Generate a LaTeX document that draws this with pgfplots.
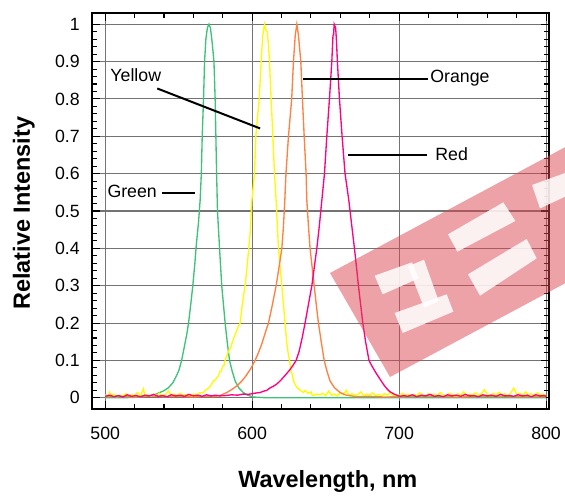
\documentclass[border=0pt]{standalone}
\usepackage{pgfplots}
\pgfplotsset{compat=1.18}
\usepackage{fontspec}
\setmainfont{Liberation Sans}

\definecolor{cgreen}{RGB}{60,195,120}
\definecolor{cyellow}{RGB}{255,250,0}
\definecolor{corange}{RGB}{255,128,64}
\definecolor{cred}{RGB}{255,0,128}
\definecolor{wmark}{RGB}{220,70,80}

\begin{document}
\begin{tikzpicture}
\begin{axis}[
    at={(0,0)}, anchor=south west,
    scale only axis, width=342.75pt, height=297pt,
    xmin=491, xmax=802, ymin=-0.03, ymax=1.03,
    xtick={500,600,700,800}, minor x tick num=4,
    ytick={0,0.1,0.2,0.3,0.4,0.5,0.6,0.7,0.8,0.9,1},
    yticklabels={0,0.1,0.2,0.3,0.4,0.5,0.6,0.7,0.8,0.9,1},
    minor y tick num=4,
    tick align=inside, tick pos=both,
    major tick length=6pt, minor tick length=3.5pt,
    tick style={black, line width=0.8pt},
    grid=major, major grid style={black!55, line width=0.8pt},
    axis line style={black, line width=1pt},
    /pgf/number format/assume math mode=true,
    ticklabel style={font=\fontsize{13.3}{16}\selectfont, inner sep=0pt},
    xticklabel style={anchor=base, yshift=-22.5pt},
    yticklabel style={anchor=east, xshift=-9pt},
    xlabel={Wavelength, nm},
    ylabel={Relative Intensity},
    label style={font=\fontsize{17.6}{20}\selectfont\bfseries, inner sep=0pt},
    xlabel style={at={(axis description cs:0.516,-0.197)}, anchor=base},
    ylabel style={at={(axis description cs:-0.1357,0.494)}, anchor=base},
]
% Green
\addplot[cgreen, line width=1pt] coordinates {
(500,0) (510,0) (520,0.001) (526,0.003) (530,0.005) (534,0.009) (537,0.014)
(540,0.019) (543,0.027) (546,0.04) (548,0.055) (550,0.072) (552,0.1)
(554,0.14) (555.5,0.17) (556.7,0.2) (558.2,0.25) (559.6,0.3) (561,0.36)
(562,0.41) (563.5,0.47) (564.6,0.53) (565.4,0.6) (566,0.7) (566.9,0.8)
(567.6,0.9) (568.5,0.96) (569.5,0.99) (570.6,1.0) (571.6,0.99) (572.8,0.95)
(574,0.9) (574.8,0.8) (575.3,0.7) (575.8,0.6) (576.4,0.5) (577.8,0.4)
(579.3,0.3) (581.6,0.2) (583,0.15) (584.6,0.1) (586.5,0.07) (588.4,0.045)
(591,0.026) (594,0.014) (597,0.007) (601,0.002) (610,0) (800,0)
};
% Yellow
\addplot[cyellow, line width=1pt] coordinates {
(500,0.008) (502,0.004) (503,0.015) (504,0.006) (506,0.01) (508,0.003) (510,0.007)
(512,0.005) (514,0.011) (516,0.004) (518,0.009) (520,0.006) (522,0.014)
(524,0.005) (526,0.024) (527,0.006) (529,0.008) (531,0.004) (533,0.01)
(535,0.007) (537,0.012) (539,0.005) (541,0.009) (543,0.018) (545,0.008)
(547,0.01) (549,0.006) (551,0.012) (553,0.007) (555,0.009) (557.8,0.006)
(560,0.01) (562,0.008) (564,0.013) (566.9,0.014) (568,0.02) (570,0.025)
(572,0.034) (573.7,0.045) (575,0.048) (576,0.055) (577,0.058) (578,0.07)
(579,0.072) (580,0.085) (581,0.088) (581.6,0.1) (583,0.115) (584.5,0.13)
(585.3,0.132) (586.2,0.145) (587.5,0.16) (589,0.175) (590.5,0.19) (591.8,0.2)
(593,0.24) (594,0.27) (595.2,0.3) (596.5,0.35) (597.7,0.4) (598.6,0.44)
(599.8,0.528) (601.6,0.6) (602.5,0.7) (604.8,0.8) (606.1,0.9) (607.2,0.97)
(608.4,1.0) (609.2,0.985) (610.2,0.98) (611,0.95) (611.8,0.9) (612.9,0.8)
(614.1,0.7) (615.2,0.6) (616.3,0.528) (617.9,0.4) (619,0.35) (620.2,0.3)
(621.3,0.25) (622.4,0.2) (623.6,0.145) (624.5,0.12) (625.4,0.1) (626.5,0.07)
(627.3,0.062) (628.1,0.045) (630,0.03) (632,0.022) (633.5,0.018) (634.9,0.014)
(636,0.02) (638,0.012) (640,0.016) (641,0.006) (644,0.01)
(646,0.008) (648,0.012) (650,0.006) (652,0.018) (654,0.007) (656,0.01)
(658,0.005) (660,0.014) (662,0.008) (664,0.02) (666,0.006) (668,0.011)
(670,0.007) (672,0.009) (674,0.016) (676,0.005) (678,0.01) (680,0.008)
(682,0.013) (684,0.006) (686,0.009) (688,0.004) (690,0.011) (692,0.007)
(694,0.015) (696,0.006) (698,0.009) (700,0.005) (702,0.012) (704,0.007)
(706,0.01) (708,0.004) (710,0.009) (712,0.006) (714,0.013) (716,0.008)
(718,0.005) (720,0.011) (722,0.007) (724,0.01) (726,0.006) (728,0.014)
(730,0.008) (732,0.005) (734,0.012) (736,0.009) (738,0.006) (740,0.011)
(742,0.007) (744,0.016) (746,0.006) (748,0.01) (750,0.008) (752,0.013)
(754,0.007) (756,0.011) (758,0.022) (760,0.009) (762,0.006) (764,0.012)
(766,0.008) (768,0.015) (770,0.007) (772,0.011) (774,0.005) (776,0.013)
(778,0.026) (780,0.009) (782,0.012) (784,0.007) (786,0.016) (788,0.008)
(790,0.011) (792,0.006) (794,0.013) (796,0.008) (798,0.01) (800,0.006)
};
% Orange
\addplot[corange, line width=1pt] coordinates {
(500,0.003) (510,0.004) (520,0.002) (530,0.005) (540,0.003) (550,0.004)
(560,0.002) (568,0.004) (573.7,0.003) (578,0.006) (582.7,0.014) (586,0.022)
(590,0.033) (593,0.045) (596,0.06) (599,0.078) (602,0.1) (604.5,0.123)
(606.6,0.145) (609,0.175) (611.1,0.2) (613.8,0.25) (616.3,0.3) (618.3,0.35)
(620.2,0.4) (621.3,0.46) (622.2,0.528) (623,0.6) (624.7,0.7) (626.9,0.8)
(628.1,0.9) (629.3,0.97) (630.4,1.0) (631.5,0.97) (633.1,0.9) (634.2,0.8)
(635.4,0.7) (636.7,0.6) (637.2,0.528) (638.3,0.46) (639.4,0.4) (640.8,0.35)
(642.2,0.3) (643.6,0.25) (645.1,0.2) (647,0.15) (649,0.1) (651,0.07)
(653,0.045) (656,0.027) (659.8,0.014) (664,0.007) (671,0.003) (680,0.004)
(690,0.002) (700,0.003) (720,0.004) (740,0.002) (760,0.004) (780,0.003) (800,0.003)
};
% Red
\addplot[cred, line width=1pt] coordinates {
(500,0.004) (503,0.007) (506,0.003) (509,0.006) (512,0.002) (515,0.008)
(518,0.004) (521,0.006) (524,0.003) (527,0.007) (530,0.005) (533,0.009)
(536,0.004) (539,0.006) (542,0.003) (545,0.008) (548,0.005) (551,0.007)
(554,0.004) (557,0.009) (560,0.005) (563,0.007) (566,0.004) (569,0.008)
(572,0.005) (575,0.007) (578,0.005) (582,0.006) (586,0.008) (590,0.007)
(594,0.01) (597,0.009) (600,0.011) (603,0.013) (605.4,0.014) (608,0.018)
(610,0.02) (612,0.026) (614,0.03) (616.5,0.036) (619,0.045) (622,0.058)
(625,0.072) (627.5,0.085) (629.9,0.1) (632,0.125) (634,0.16) (636,0.2)
(638.3,0.25) (640.6,0.3) (642.3,0.35) (644,0.4) (645.7,0.46) (647.4,0.528)
(649.2,0.6) (650.8,0.7) (652.6,0.8) (654.2,0.9) (655,0.97) (655.4,0.972)
(655.8,1.0) (656.8,0.99) (657.3,0.96) (658,0.9) (659.4,0.8) (661.2,0.7)
(663.2,0.6) (665.8,0.528) (667.8,0.46) (669.6,0.4) (671,0.35) (672.3,0.3)
(673.8,0.25) (675.3,0.2) (677.2,0.15) (679.5,0.1) (681.5,0.085) (684.5,0.065)
(687,0.05) (689.5,0.035) (691.5,0.025) (693.5,0.017) (697,0.009) (700.7,0.004)
(703,0.006) (706,0.004) (709,0.008) (712,0.003) (715,0.007) (718,0.005)
(721,0.009) (724,0.004) (727,0.006) (730,0.003) (733,0.008) (736,0.005)
(739,0.007) (742,0.004) (745,0.009) (748,0.005) (751,0.006) (754,0.003)
(757,0.008) (760,0.005) (763,0.007) (766,0.004) (769,0.009) (772,0.005)
(775,0.006) (778,0.004) (781,0.008) (784,0.005) (787,0.007) (790,0.003)
(793,0.008) (796,0.005) (799,0.006) (800,0.004)
};
% annotations
\draw[black, line width=1.5pt] (axis cs:535.4,0.828) -- (axis cs:605.4,0.721);
\draw[black, line width=1.5pt] (axis cs:538.8,0.548) -- (axis cs:561.2,0.548);
\draw[black, line width=1.5pt] (axis cs:634.7,0.853) -- (axis cs:719.7,0.853);
\draw[black, line width=1.5pt] (axis cs:665.3,0.651) -- (axis cs:719,0.651);
\begin{scope}[every node/.style={font=\fontsize{13.3}{16}\selectfont, inner sep=0pt, anchor=base west}]
\node at (axis cs:503.4,0.847) {Yellow};
\node at (axis cs:501.4,0.537) {Green};
\node at (axis cs:721.1,0.845) {Orange};
\node at (axis cs:724.5,0.634) {Red};
\end{scope}
\end{axis}
% watermark
\fill[wmark, fill opacity=0.5] (178.5pt,102pt) -- (223.5pt,24pt) -- (421.95pt,130.2pt) -- (376.95pt,208.2pt) -- cycle;
\begin{scope}[fill=white, fill opacity=0.85]
\fill (267pt,131pt) -- (308.5pt,155pt) -- (317.5pt,141pt) -- (274pt,118pt) -- cycle;
\fill (282pt,101pt) -- (326pt,127.5pt) -- (333.5pt,113pt) -- (291pt,85pt) -- cycle;
\fill (330pt,168pt) -- (354.75pt,177pt) -- (354.75pt,159.2pt) -- (336pt,150.5pt) -- cycle;
\fill (212pt,100pt) -- (240pt,110pt) -- (245pt,98pt) -- (218pt,86pt) -- cycle;
\fill (237pt,107pt) -- (249pt,112pt) -- (260pt,81pt) -- (249pt,76pt) -- cycle;
\fill (227pt,72pt) -- (266pt,86pt) -- (271pt,73pt) -- (233pt,57pt) -- cycle;
\end{scope}
\pgfresetboundingbox
\path[use as bounding box] (-69pt,-66pt) rectangle (354.75pt,306.75pt);
\end{tikzpicture}
\end{document}
